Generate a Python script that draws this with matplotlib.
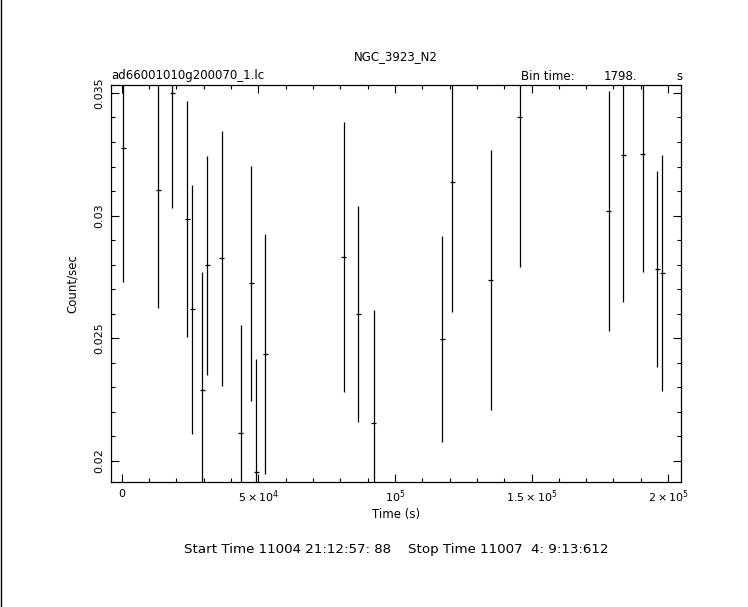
import matplotlib
matplotlib.use("Agg")
import matplotlib.pyplot as plt
from matplotlib.lines import Line2D
from matplotlib.ticker import FixedLocator, MultipleLocator, FixedFormatter

# light curve values
time_s = [600, 13390, 18510, 24000, 25830, 29490, 31320, 36590, 43650, 47420,
          49250, 52540, 81340, 86580, 92320, 117310, 120970, 135130, 145740,
          178190, 183540, 190740, 195980, 197810]
rate = [0.03274, 0.03104, 0.03498, 0.02985, 0.02618, 0.02289, 0.02797, 0.02826,
        0.02113, 0.02724, 0.01954, 0.02435, 0.02830, 0.02598, 0.02154, 0.02496,
        0.03136, 0.02736, 0.03401, 0.03018, 0.03246, 0.03251, 0.02781, 0.02765]
rate_err = [0.00546, 0.00480, 0.00466, 0.00480, 0.00506, 0.00480, 0.00446, 0.00520,
            0.00440, 0.00480, 0.00460, 0.00490, 0.00550, 0.00440, 0.00460, 0.00420,
            0.00530, 0.00530, 0.00610, 0.00490, 0.00600, 0.00480, 0.00400, 0.00480]
bin_time = 1798.0

x_ticks = [0, 5e4, 1e5, 1.5e5, 2e5]
x_labels = ["0", r"$5\times10^{4}$", r"$10^{5}$", r"$1.5\times10^{5}$", r"$2\times10^{5}$"]
y_ticks = [0.02, 0.025, 0.03, 0.035]
y_labels = ["0.02", "0.025", "0.03", "0.035"]

plt.rcParams["font.family"] = "DejaVu Sans"
plt.rcParams["mathtext.fontset"] = "dejavusans"

fig = plt.figure(figsize=(7.48, 6.07), dpi=100)
W, H = 748, 607
ax = fig.add_axes([111 / W, 1 - 481.7 / H, (680.7 - 111) / W, (481.7 - 84.7) / H])

ax.errorbar(time_s, rate, yerr=rate_err, xerr=bin_time / 2, fmt="none",
            ecolor="black", elinewidth=0.9, capsize=0)

ax.set_xlim(-3900, 204600)
ax.set_ylim(0.019156, 0.035334)

ax.xaxis.set_major_locator(FixedLocator(x_ticks))
ax.xaxis.set_major_formatter(FixedFormatter(x_labels))
ax.xaxis.set_minor_locator(MultipleLocator(1e4))
ax.yaxis.set_major_locator(FixedLocator(y_ticks))
ax.yaxis.set_major_formatter(FixedFormatter(y_labels))
ax.yaxis.set_minor_locator(MultipleLocator(0.001))

ax.tick_params(which="both", direction="in", top=True, right=True,
               width=0.8, labelsize=8)
ax.tick_params(which="major", length=5.5)
ax.tick_params(which="minor", length=2.8)
ax.tick_params(axis="x", pad=5)
ax.tick_params(axis="y", pad=5)
for lab in ax.get_yticklabels():
    lab.set_rotation(90)
    lab.set_va("center")
for sp in ax.spines.values():
    sp.set_linewidth(0.9)

ax.set_xlabel("Time (s)", fontsize=8.5, labelpad=2)
ax.set_ylabel("Count/sec", fontsize=8.5, labelpad=11)

fig.text(396 / W, 1 - 57 / H, "NGC_3923_N2", ha="center", va="center", fontsize=8.5)
fig.text(111 / W, 1 - 76 / H, "ad66001010g200070_1.lc", ha="left", va="center", fontsize=8.5)
fig.text(521 / W, 1 - 76 / H, "Bin time:", ha="left", va="center", fontsize=8.5)
fig.text(604 / W, 1 - 76 / H, "1798.", ha="left", va="center", fontsize=8.5)
fig.text(676 / W, 1 - 76 / H, "s", ha="left", va="center", fontsize=8.5)
fig.text(396 / W, 1 - 549 / H,
         "Start Time 11004 21:12:57: 88    Stop Time 11007  4: 9:13:612",
         ha="center", va="center", fontsize=9.6)

# thin frame line along the left edge of the window
fig.add_artist(Line2D([0.5 / W, 0.5 / W], [0, 1], color="black", linewidth=1.0))

fig.savefig("out.png", dpi=100)
